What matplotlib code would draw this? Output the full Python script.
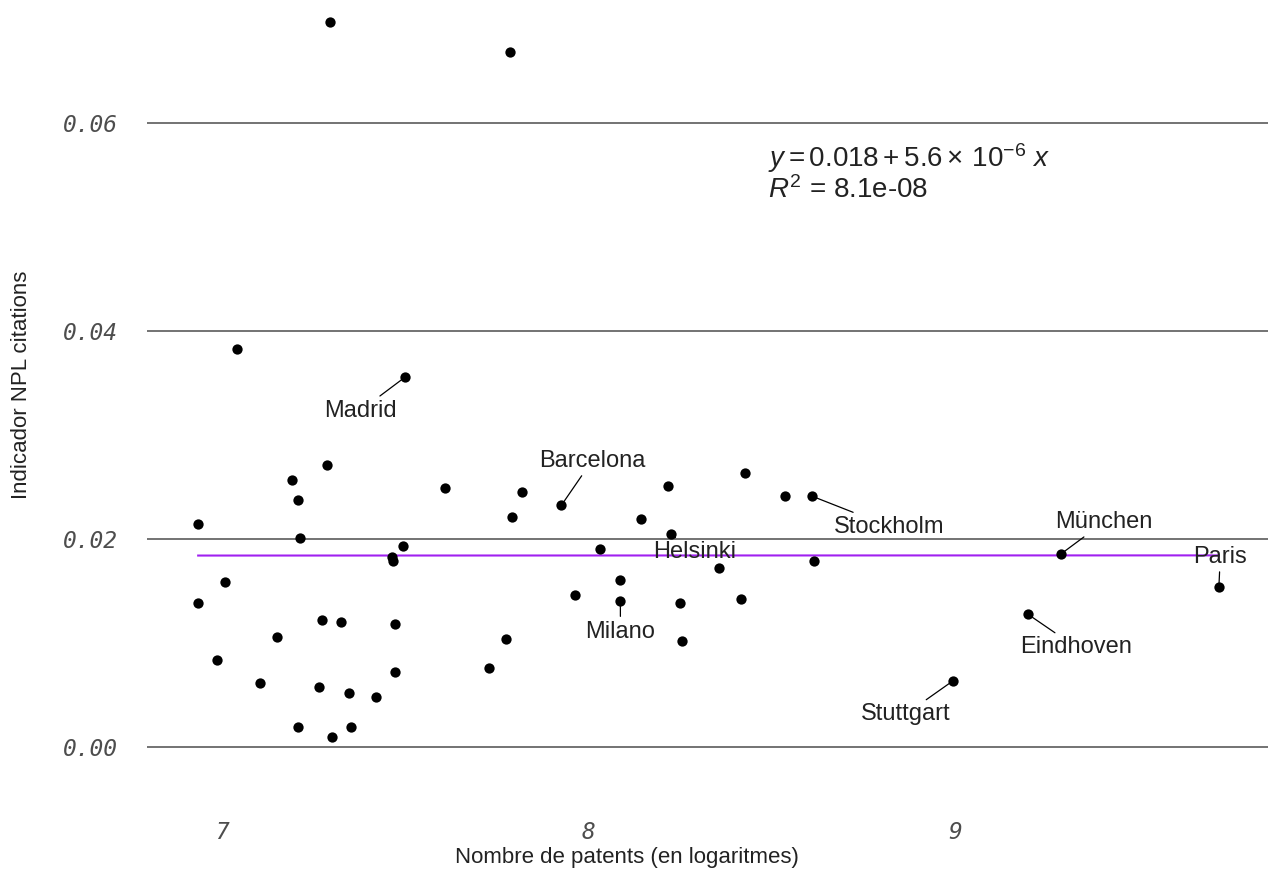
import matplotlib
matplotlib.use("Agg")
import matplotlib.pyplot as plt
import numpy as np

# ── data ─────────────────────────────────────────────────────────────────────
log_patents = [
    6.935, 6.935, 7.009, 6.987, 7.040, 7.103, 7.149, 7.191, 7.207, 7.213,
    7.207, 7.265, 7.274, 7.286, 7.295, 7.300, 7.326, 7.347, 7.352, 7.420,
    7.463, 7.467, 7.472, 7.472, 7.494, 7.499, 7.608, 7.728, 7.775, 7.786,
    7.790, 7.818, 7.926, 7.962, 8.031, 8.087, 8.087, 8.144, 8.217, 8.225,
    8.250, 8.256, 8.355, 8.417, 8.427, 8.536, 8.609, 8.614, 8.994, 9.198,
    9.288, 9.720,
]
npl_indicator = [
    0.02141, 0.01385, 0.01587, 0.00834, 0.03830, 0.00613, 0.01055, 0.02564, 0.02378, 0.02013,
    0.00192, 0.00574, 0.01218, 0.02712, 0.06974, 0.00099, 0.01202, 0.00522, 0.00192, 0.00484,
    0.01830, 0.01788, 0.01183, 0.00724, 0.01936, 0.03555, 0.02488, 0.00760, 0.01038, 0.06680,
    0.02212, 0.02452, 0.02324, 0.01459, 0.01901, 0.01606, 0.01404, 0.02195, 0.02510, 0.02048,
    0.01388, 0.01019, 0.01718, 0.01423, 0.02638, 0.02413, 0.02413, 0.01791, 0.00635, 0.01279,
    0.01853, 0.01536,
]
city_names = {
    25: "Madrid", 32: "Barcelona", 36: "Milano", 39: "Helsinki", 46: "Stockholm",
    48: "Stuttgart", 49: "Eindhoven", 50: "München", 51: "Paris",
}
fit_intercept = 0.01837
fit_slope = 5.6e-6
y_ticks = [0.00, 0.02, 0.04, 0.06]
x_ticks = [7, 8, 9]

# label offsets (points) from each labelled city
label_offsets = {
    "Madrid": (-32, -24), "Barcelona": (22, 32), "Milano": (0, -22),
    "Helsinki": (17, -13), "Stockholm": (56, -22), "München": (31, 23),
    "Paris": (1, 22), "Eindhoven": (35, -24), "Stuttgart": (-34, -24),
}

plt.rcParams["font.family"] = ["Liberation Sans", "DejaVu Sans"]
plt.rcParams["mathtext.fontset"] = "custom"
plt.rcParams["mathtext.rm"] = "Liberation Sans"
plt.rcParams["mathtext.it"] = "Liberation Sans:italic"

fig = plt.figure(figsize=(12.68, 8.75), dpi=100)
W, H = 1268, 875
ax = fig.add_axes([147 / W, (H - 772) / H, (1268 - 147) / W, 772 / H])

# pixel->data mapping of the reference panel
ax.set_xlim(7 + (147 - 222) / 366.5, 7 + (1268 - 222) / 366.5)
ax.set_ylim((747 - 772) / 10400, 747 / 10400)

for yt in y_ticks:
    ax.axhline(yt, color="#4d4d4d", lw=1.1, zorder=0)

x = np.array(log_patents)
y = np.array(npl_indicator)
ax.scatter(x, y, s=55, color="black", zorder=3, linewidths=0)

xs = np.array([x.min(), x.max()])
ax.plot(xs, fit_intercept + fit_slope * xs, color="#a020f0", lw=1.5, zorder=2)

for idx, name in city_names.items():
    ax.annotate(name, xy=(x[idx], y[idx]), xytext=label_offsets[name],
                textcoords="offset points", ha="center", va="center",
                fontsize=17, color="#222222", zorder=4,
                arrowprops=dict(arrowstyle="-", color="black", lw=0.9,
                                shrinkA=1, shrinkB=3))

ax.text(8.49, 0.05663, r"$y = 0.018 + 5.6 \times\, 10^{-6}\ x$",
        fontsize=20, color="#222222", ha="left", va="center")
ax.text(8.49, 0.05356, r"$R^2$ = 8.1e-08",
        fontsize=20, color="#222222", ha="left", va="center")

for s in ax.spines.values():
    s.set_visible(False)
ax.set_yticks(y_ticks)
ax.set_yticklabels([f"{v:.2f}" for v in y_ticks])
ax.set_xticks(x_ticks)
ax.set_xticklabels([str(v) for v in x_ticks])
ax.tick_params(length=0)
ax.tick_params(axis="y", pad=21)
ax.tick_params(axis="x", pad=35)
for lab in ax.get_yticklabels() + ax.get_xticklabels():
    lab.set_fontfamily("DejaVu Sans Mono")
    lab.set_fontstyle("italic")
    lab.set_fontsize(16.5)
    lab.set_color("#4d4d4d")

ax.set_xlabel("Nombre de patents (en logaritmes)", fontsize=16, color="#222222")
ax.set_ylabel("Indicador NPL citations", fontsize=16, color="#222222")
ax.xaxis.set_label_coords((627 - 147) / 1121, (772 - 858) / 772)
ax.xaxis.label.set_va("center")
ax.yaxis.set_label_coords((22 - 147) / 1121, (772 - 385) / 772)
ax.yaxis.label.set_va("center")

fig.savefig("out.png", dpi=100)
